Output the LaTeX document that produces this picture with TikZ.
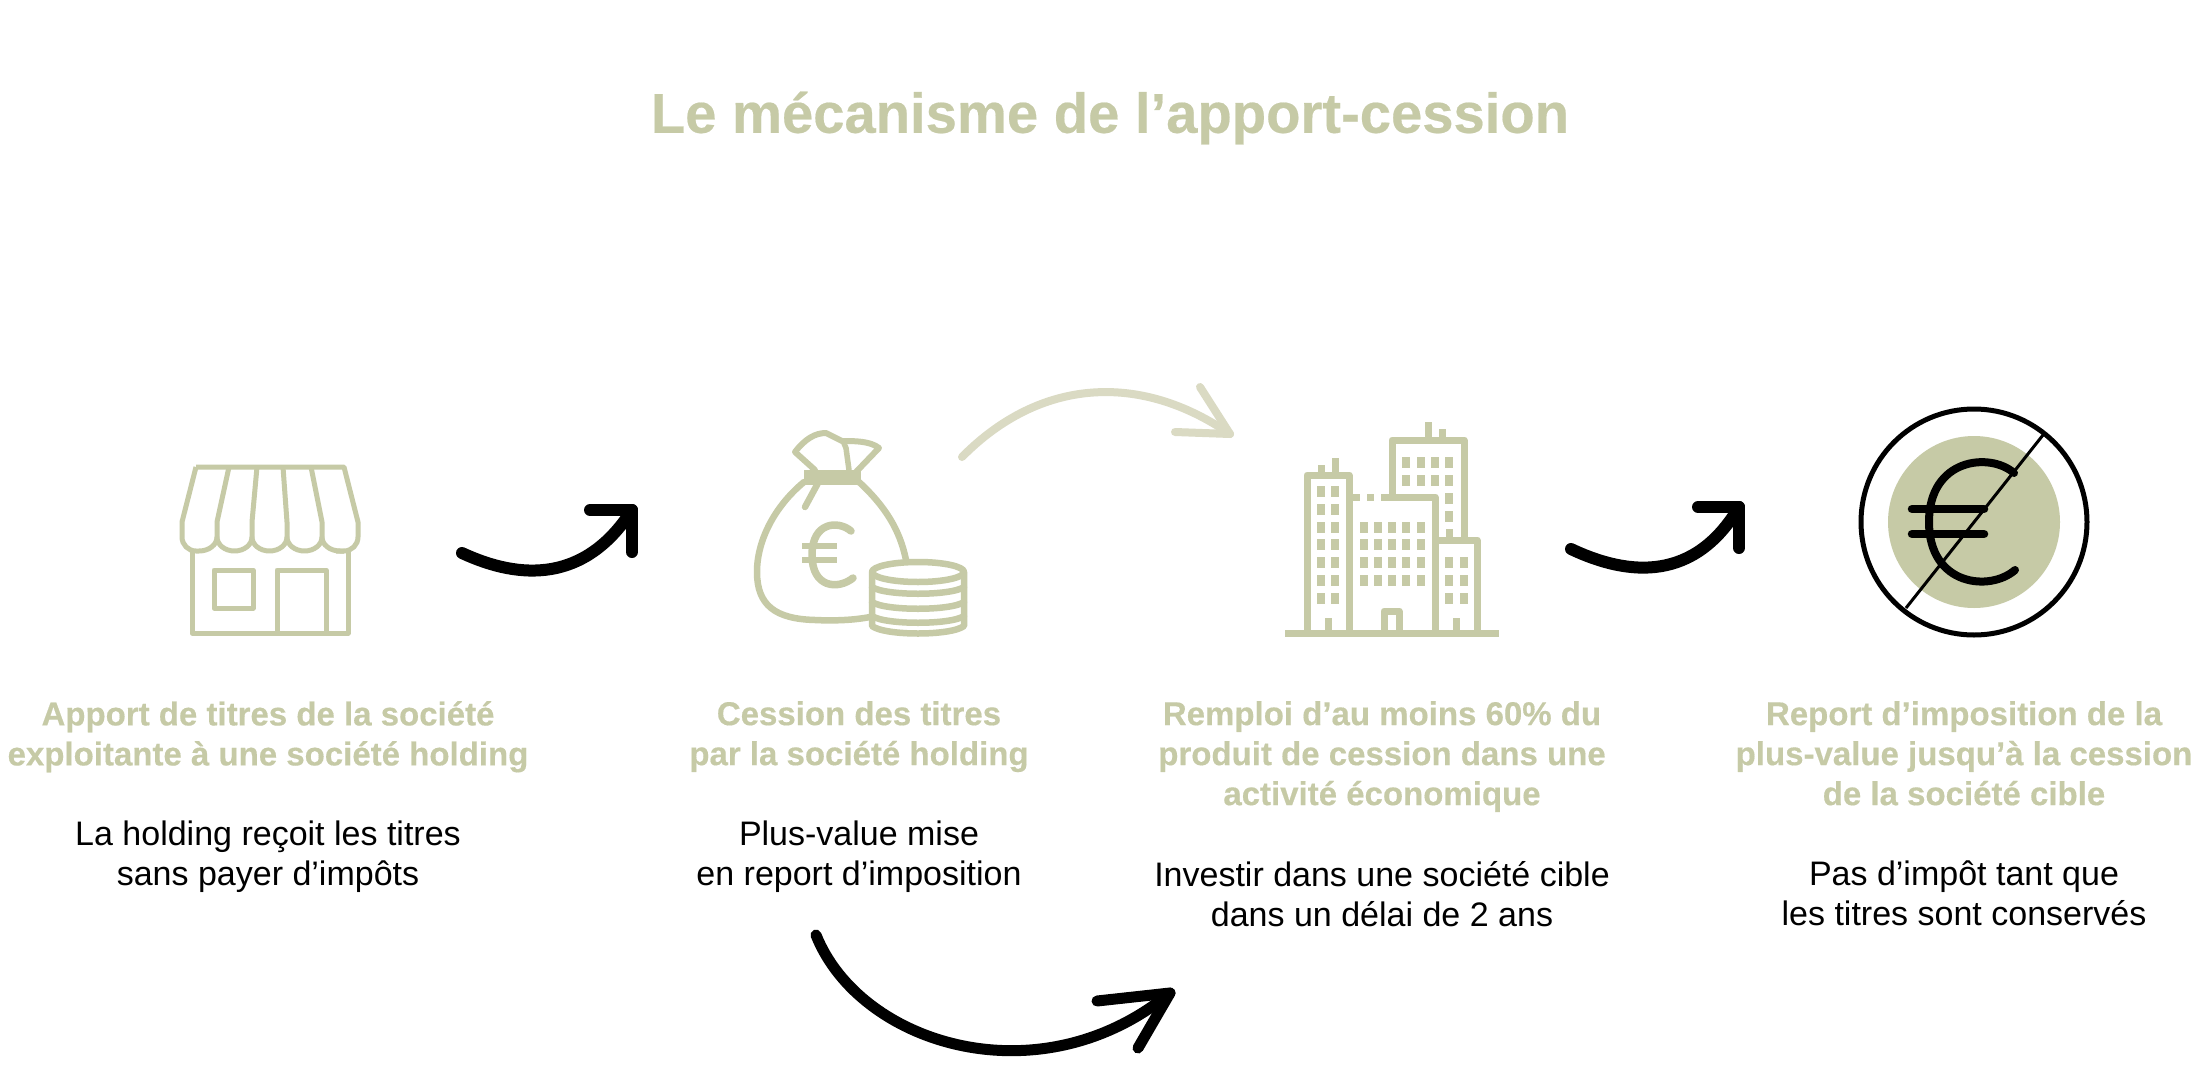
\documentclass[tikz,border=0pt]{standalone}
\usepackage{fontspec}
\setmainfont{Liberation Sans}
\newfontfamily\heavyfont[FakeBold=0.35]{Liberation Sans Bold}
\definecolor{sage}{HTML}{C6CAA6}
\definecolor{sagelight}{HTML}{DADAC3}
\tikzset{
  titletext/.style={text=sage,font=\heavyfont\fontsize{56.2}{64}\selectfont,anchor=center,inner sep=0pt},
  headtext/.style={text=sage,font=\heavyfont\fontsize{33}{40}\selectfont,align=center,anchor=north,inner sep=0pt},
  bodytext/.style={text=black,font=\fontsize{34}{40}\selectfont,align=center,anchor=north,inner sep=0pt},
  icon/.style={draw=sage,line width=5pt,line join=round,fill=none},
  bagline/.style={draw=sage,line width=6.5pt,line cap=round,line join=round,fill=none},
  bld/.style={draw=sage,line width=7pt,line cap=butt,line join=round,fill=none},
  win/.style={fill=sage,draw=none},
  arrowk/.style={draw=black,line width=12pt,line cap=round,line join=round,fill=none},
  arrowk thin/.style={draw=black,line width=11pt,line cap=round,line join=round,fill=none},
  arrowl/.style={draw=sagelight,line width=8pt,line cap=round,line join=round,fill=none},
}
\begin{document}
\begin{tikzpicture}[x=1pt,y=-1pt]
\useasboundingbox (0,0) rectangle (2212,1084);
\fill[white] (0,0) rectangle (2212,1084);
% title
\node[titletext] (title) at (1110,118) {Le mécanisme de l’apport-cession};
% store
\draw[icon] (196,467) -- (344,467) -- (358,522) -- (358,537)
  arc[start angle=0,end angle=90,radius=14] -- (336,551);
\draw[icon] (196,467) -- (182,522) -- (182,537) arc[start angle=180,end angle=90,radius=14] -- (199,551);
\draw[icon] (199,551) arc[start angle=90,end angle=0,x radius=18,y radius=14];
\draw[icon] (217,537) arc[start angle=180,end angle=0,x radius=17.5,y radius=14];
\draw[icon] (252,537) arc[start angle=180,end angle=0,x radius=17.5,y radius=14];
\draw[icon] (287,537) arc[start angle=180,end angle=0,x radius=17.5,y radius=14];
\draw[icon] (322,537) arc[start angle=180,end angle=90,x radius=18,y radius=14] -- (344,551);
\draw[icon] (229,467) -- (217,522) -- (217,537);
\draw[icon] (257,467) -- (252,522) -- (252,537);
\draw[icon] (283,467) -- (287,522) -- (287,537);
\draw[icon] (311,467) -- (322,522) -- (322,537);
\draw[icon] (192,551) -- (192,633) -- (348,633) -- (348,551);
\draw[icon] (214,570) rectangle (253,608);
\draw[icon] (277,633) -- (277,570) -- (326,570) -- (326,633);
% bag
\draw[bagline] (804,482) .. controls (775,506) and (757,540) .. (757,572)
  .. controls (757,605) and (775,619) .. (815,620) .. controls (835,621) and (855,620) .. (870,617);
\draw[bagline] (859,482) .. controls (885,506) and (900,530) .. (906,560);
\fill[sage] (804,470) rectangle (861,485);
\draw[bagline,line width=6pt] (815,470) -- (795,452) .. controls (805,439) and (815,433) .. (826,433) -- (842,441)
  .. controls (855,441) and (870,441) .. (879,448) -- (856,472);
\draw[bagline,line width=5.5pt] (843,441) -- (846,448) -- (849,470);
\draw[bagline] (818,483) -- (805,507);
\draw[bagline,line width=7.5pt] (851,531) .. controls (838,520) and (812,522) .. (812,555)
  .. controls (812,588) and (838,590) .. (853,578);
\draw[sage,line width=6.5pt] (802,546) -- (837,546) (802,560) -- (837,560);
\fill[white] (872,572) -- (872,626) arc[start angle=180,end angle=0,x radius=46,y radius=10] -- (964,572) arc[start angle=0,end angle=-180,x radius=46,y radius=10];
\draw[bagline] (918,572) ellipse[x radius=46,y radius=10];
\draw[bagline] (872,572) -- (872,626) .. controls (885,636) and (951,636) .. (964,626) -- (964,572);
\draw[bagline] (872,587) .. controls (885,596) and (951,596) .. (964,587);
\draw[bagline] (872,602) .. controls (885,611) and (951,611) .. (964,602);
\draw[bagline] (872,616) .. controls (885,625) and (951,625) .. (964,616);
% buildings
\draw[bld] (1285,633) -- (1499,633);
\draw[bld] (1307,633) -- (1307,475) -- (1349,475) -- (1349,633);
\draw[bld] (1335,458) -- (1335,475) (1321,465) -- (1321,475);
\draw[bld] (1392,497) -- (1392,440) -- (1464,440) -- (1464,537);
\draw[bld] (1428,422) -- (1428,440) (1442,429) -- (1442,440);
\draw[bld] (1353,497) -- (1360,497) (1367,497) -- (1374,497);
\draw[bld] (1381,497) -- (1435,497) -- (1435,633);
\draw[bld] (1435,540) -- (1477,540) -- (1477,633);
\draw[bld] (1449,529) -- (1449,540);
\draw[bld] (1384,633) -- (1384,611) -- (1399,611) -- (1399,633);
\draw[bld] (1328,618) -- (1328,633) (1456,618) -- (1456,633);
\foreach \y in {486,504,522,539,557,575,593} {
  \foreach \x in {1317,1331} { \fill[win] (\x,\y) rectangle ++(7.7,11); }
}
\foreach \y in {457,475} {
  \foreach \x in {1402,1417,1431,1445} { \fill[win] (\x,\y) rectangle ++(7.7,11); }
}
\foreach \y in {493,511} { \fill[win] (1445,\y) rectangle ++(7.7,11); }
\foreach \y in {522,539,557,575} {
  \foreach \x in {1360,1374,1388,1402,1417} { \fill[win] (\x,\y) rectangle ++(7.7,11); }
}
\foreach \y in {557,575,593} {
  \foreach \x in {1445,1460} { \fill[win] (\x,\y) rectangle ++(7.7,11); }
}
% no-euro
\fill[sage] (1974,522) circle[radius=86];
\draw[black,line width=5pt] (1974,522) circle[radius=113];
\draw[black,line width=3pt] (2043,435) -- (1906,608);
\draw[black,line width=8pt,line cap=round] (2014,473) .. controls (1990,452) and (1929,458) .. (1929,522)
  .. controls (1929,586) and (1990,592) .. (2015,570);
\draw[black,line width=8.5pt,line cap=round] (1912,509) -- (1984,509) (1912,534) -- (1984,534);
% arrows
\coordinate (a1s) at (462,553); \coordinate (a1e) at (632,510);
\coordinate (a1h1) at (590,510); \coordinate (a1h2) at (632,552);
\draw[arrowk] (a1s) .. controls (520,580) and (585,583) .. (a1e);
\draw[arrowk] (a1h1) -- (a1e) -- (a1h2);
\coordinate (a2s) at (962,457); \coordinate (a2e) at (1230,434);
\coordinate (a2h1) at (1200,387); \coordinate (a2h2) at (1175,432);
\draw[arrowl] (a2s) .. controls (1040,378) and (1140,372) .. (a2e);
\draw[arrowl] (a2h1) -- (a2e) -- (a2h2);
\coordinate (a3s) at (1571,549); \coordinate (a3e) at (1739,507);
\coordinate (a3h1) at (1698,507); \coordinate (a3h2) at (1739,548);
\draw[arrowk] (a3s) .. controls (1630,577) and (1695,581) .. (a3e);
\draw[arrowk] (a3h1) -- (a3e) -- (a3h2);
\coordinate (a4s) at (816,935); \coordinate (a4e) at (1170,993);
\coordinate (a4h1) at (1097,1001); \coordinate (a4h2) at (1138,1048);
\draw[arrowk thin] (a4s) .. controls (860,1045) and (1040,1100) .. (a4e);
\draw[arrowk thin] (a4h1) -- (a4e) -- (a4h2);
% texts
\node[headtext] (h1) at (268,701) {Apport de titres de la société\\exploitante à une société holding};
\node[bodytext] (b1) at (268,821) {La holding reçoit les titres\\sans payer d’impôts};
\node[headtext] (h2) at (859,701) {Cession des titres\\par la société holding};
\node[bodytext] (b2) at (859,821) {Plus-value mise\\en report d’imposition};
\node[headtext] (h3) at (1382,701) {Remploi d’au moins 60\% du\\produit de cession dans une\\activité économique};
\node[bodytext] (b3) at (1382,861) {Investir dans une société cible\\dans un délai de 2 ans};
\node[headtext] (h4) at (1964,701) {Report d’imposition de la\\plus-value jusqu’à la cession\\de la société cible};
\node[bodytext] (b4) at (1964,861) {Pas d’impôt tant que\\les titres sont conservés};
\end{tikzpicture}
\end{document}
